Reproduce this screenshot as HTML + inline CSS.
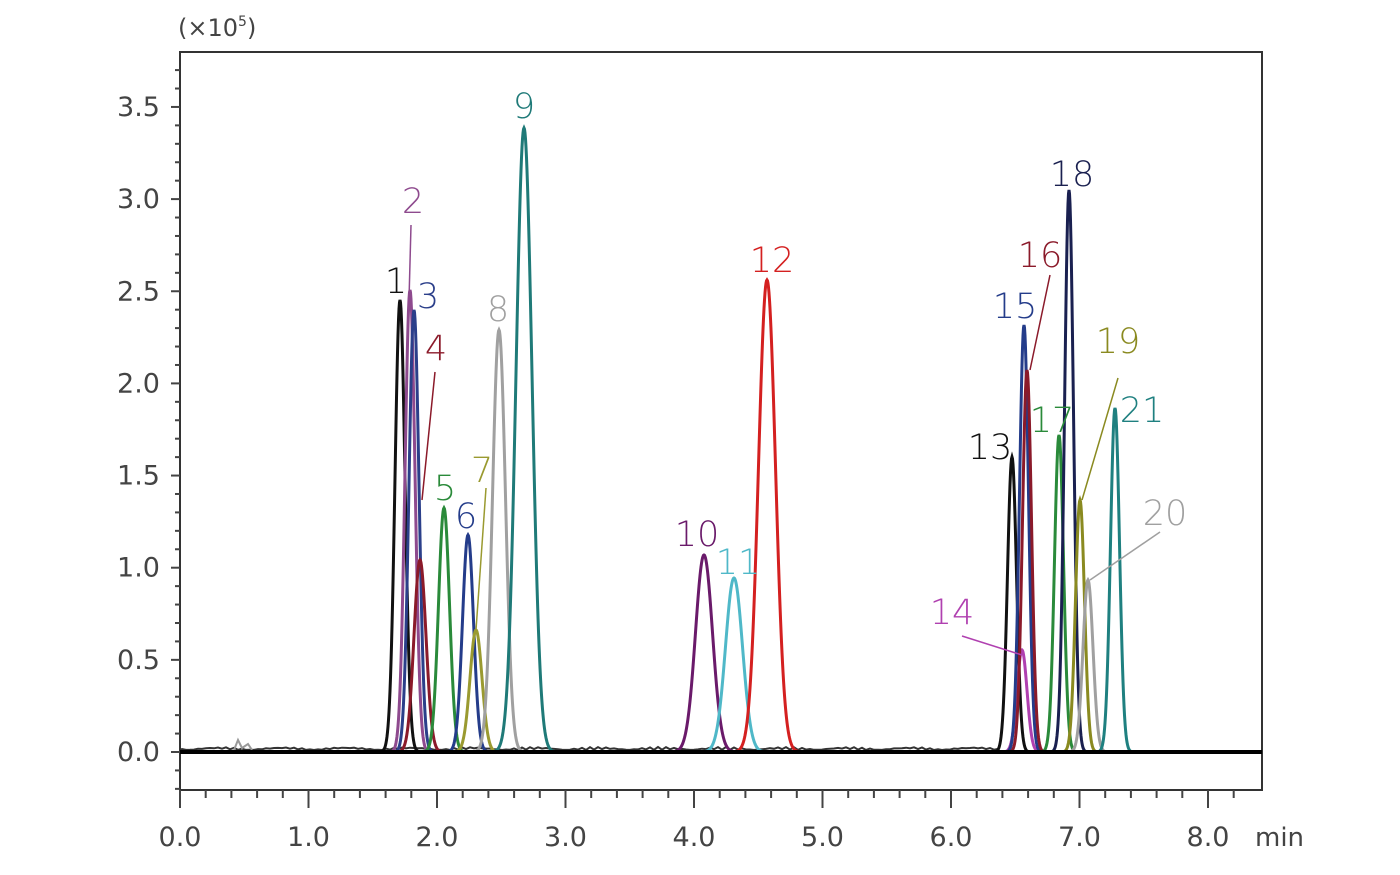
<!DOCTYPE html>
<html><head><meta charset="utf-8"><style>
html,body{margin:0;padding:0;background:#fff;}
svg{display:block;}
text{font-family:"DejaVu Sans","Liberation Sans",sans-serif;}
</style></head><body>
<svg id="s" width="1400" height="875" viewBox="0 0 1400 875" xmlns="http://www.w3.org/2000/svg">
<rect x="180" y="52" width="1082" height="738" fill="#fff" stroke="#333" stroke-width="2"/>
<g id="ticks" stroke="#444" stroke-width="2"></g>
<g id="peaks" fill="none" stroke-width="3"></g>
<line x1="180" y1="752" x2="1262" y2="752" stroke="#000" stroke-width="4"/>
<g font-size="27" fill="#444" text-anchor="end" id="ylab"></g>
<g font-size="27" fill="#444" text-anchor="middle" id="xlab"></g>
<text x="1255" y="846" font-size="26" fill="#444">min</text>
<text x="178" y="36" font-size="24" fill="#444">(×10<tspan font-size="14" dy="-10">5</tspan><tspan dy="10">)</tspan></text>
<g font-size="35" font-weight="300" id="labels"></g>
<g id="leaders" stroke-width="1.5" fill="none"></g>
</svg>
<script>
const NS="http://www.w3.org/2000/svg";
function el(p,t,a,txt){const e=document.createElementNS(NS,t);for(const k in a)e.setAttribute(k,a[k]);if(txt!=null)e.textContent=txt;document.getElementById(p).appendChild(e);return e;}
const X=t=>180+128.5*t, Y=v=>752-v*184.3;
for(let i=-2;i<=38;i++){const y=752-i*18.43;if(y<55||y>789)continue;const L=i%5==0?9:5;el('ticks','line',{x1:180-L,y1:y,x2:180,y2:y});}
for(let i=0;i<=41;i++){const t=i*0.2;const x=X(t);if(x>1262)break;const L=(i%5==0)?18:8;el('ticks','line',{x1:x,y1:790,x2:x,y2:790+L});}
for(let v=0;v<=3.5;v+=0.5){el('ylab','text',{x:160,y:Y(v)+9},v.toFixed(1));}
for(let t=0;t<=8;t++){el('xlab','text',{x:X(t),y:846},t.toFixed(1));}
// baseline noise
let nd='M180 750';for(let x=182;x<1000;x+=4){nd+='L'+x+' '+(750-Math.abs(Math.sin(x*0.37)*Math.sin(x*0.05))*3).toFixed(1);}
el('peaks','path',{d:nd,stroke:'#333','stroke-width':2});
el('peaks','path',{d:'M234 750 L238 740 L242 748 L248 744 L252 750',stroke:'#999','stroke-width':2});
const P=[
[400,300,5,'#111'],[410,290,5,'#8e4a8e'],[414,310,5,'#2b3f8a'],[420,560,6,'#8b1a2a'],
[444,508,5.5,'#2a8a3a'],[468,535,5.5,'#243c8a'],[476,630,6,'#9a9a30'],[499,330,6.5,'#a0a0a0'],
[524,128,8,'#1f7a78'],[704,555,8.5,'#6a1a6a'],[734,578,8.5,'#4fb8c8'],[767,280,8.5,'#d42020'],
[1012,457,4.5,'#111'],[1022,650,5,'#b040b0'],[1024,325,4.5,'#243c8a'],[1027,370,4.5,'#8b1a2a'],
[1059,435,4.5,'#2a8a3a'],[1069,190,4.5,'#1a2050'],[1080,500,4.5,'#8a8a20'],[1088,580,5,'#a0a0a0'],[1115,408,4.5,'#1f8080']];
for(const [cx,top,s,c] of P){let d='';for(let x=cx-5*s;x<=cx+5*s;x+=0.5){const y=752-(752-top)*Math.exp(-((x-cx)**2)/(2*s*s));d+=(d?'L':'M')+x+' '+y.toFixed(1);}el('peaks','path',{d:d,stroke:c});}
const Lb=[['1',396,293,'#111'],['2',413,213,'#8e4a8e'],['3',428,308,'#2b3f8a'],['4',436,360,'#8b1a2a'],
['5',445,500,'#2a8a3a'],['6',466,528,'#243c8a'],['7',482,482,'#9a9a30'],['8',498,321,'#a0a0a0'],
['9',524,118,'#1f7a78'],['10',697,546,'#6a1a6a'],['11',738,574,'#4fb8c8'],['12',772,272,'#d42020'],
['13',990,459,'#111'],['14',952,624,'#b040b0'],['15',1015,318,'#243c8a'],['16',1040,267,'#8b1a2a'],
['17',1052,432,'#2a8a3a'],['18',1072,186,'#1a2050'],['19',1118,353,'#8a8a20'],['20',1165,525,'#a0a0a0'],['21',1142,422,'#1f8080']];
for(const [t,x,y,c] of Lb){el('labels','text',{x:x,y:y,fill:c,'text-anchor':'middle'},t);}
const Ld=[[411,225,405,450,'#8e4a8e'],[435,372,422,500,'#8b1a2a'],[486,488,476,630,'#9a9a30'],
[962,636,1022,655,'#b040b0'],[1050,275,1030,370,'#8b1a2a'],[1118,378,1082,500,'#8a8a20'],[1160,532,1090,580,'#a0a0a0']];
for(const [a,b,c2,d,col] of Ld){el('leaders','line',{x1:a,y1:b,x2:c2,y2:d,stroke:col});}
</script>
</body></html>
